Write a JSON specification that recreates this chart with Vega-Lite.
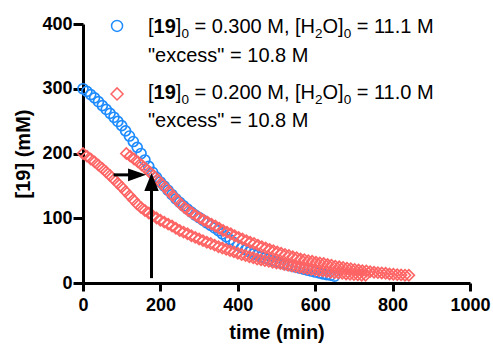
{
  "$schema": "https://vega.github.io/schema/vega-lite/v6.json",
  "width": 387,
  "height": 259,
  "autosize": {"type": "none"},
  "padding": {"left": 83, "top": 24, "right": 23, "bottom": 63},
  "background": "white",
  "config": {
    "view": {"stroke": null},
    "axis": {
      "grid": false,
      "domainColor": "black",
      "domainWidth": 3,
      "tickColor": "black",
      "tickWidth": 3,
      "labelFont": "Liberation Sans",
      "labelFontSize": 18,
      "labelFontWeight": "bold",
      "labelColor": "black",
      "labelFlush": false,
      "labelOverlap": false,
      "titleFont": "Liberation Sans",
      "titleFontSize": 20,
      "titleFontWeight": "bold",
      "titleColor": "black"
    },
    "axisX": {"tickSize": 8, "labelPadding": 5, "titlePadding": 8},
    "axisY": {"tickSize": 10, "labelPadding": 1, "titlePadding": 8}
  },
  "datasets": {
    "series": [
      {"s":"b","t":0,"c":300},{"s":"b","t":10,"c":296},{"s":"b","t":20,"c":291},{"s":"b","t":30,"c":286},{"s":"b","t":40,"c":280},{"s":"b","t":50,"c":274},{"s":"b","t":60,"c":268},{"s":"b","t":70,"c":262},{"s":"b","t":80,"c":256},{"s":"b","t":90,"c":249.5},
      {"s":"b","t":100,"c":243},{"s":"b","t":110,"c":235},{"s":"b","t":120,"c":227},{"s":"b","t":130,"c":218.5},{"s":"b","t":140,"c":209.5},{"s":"b","t":150,"c":200},{"s":"b","t":160,"c":190},{"s":"b","t":170,"c":180},{"s":"b","t":180,"c":171},{"s":"b","t":190,"c":163},
      {"s":"b","t":200,"c":156},{"s":"b","t":210,"c":149.5},{"s":"b","t":220,"c":143},{"s":"b","t":230,"c":136.5},{"s":"b","t":240,"c":130},{"s":"b","t":250,"c":124.5},{"s":"b","t":260,"c":119},{"s":"b","t":270,"c":114},{"s":"b","t":280,"c":109.5},{"s":"b","t":290,"c":105},
      {"s":"b","t":300,"c":101},{"s":"b","t":310,"c":97},{"s":"b","t":320,"c":93},{"s":"b","t":330,"c":89},{"s":"b","t":340,"c":85},{"s":"b","t":350,"c":81},{"s":"b","t":360,"c":76},{"s":"b","t":370,"c":71.5},{"s":"b","t":380,"c":67},{"s":"b","t":390,"c":62.5},
      {"s":"b","t":400,"c":58},{"s":"b","t":410,"c":54.5},{"s":"b","t":420,"c":51},{"s":"b","t":430,"c":48},{"s":"b","t":440,"c":45},{"s":"b","t":450,"c":43},{"s":"b","t":460,"c":40.5},{"s":"b","t":470,"c":38.5},{"s":"b","t":480,"c":36.5},{"s":"b","t":490,"c":34.5},
      {"s":"b","t":500,"c":32.5},{"s":"b","t":510,"c":31},{"s":"b","t":520,"c":29},{"s":"b","t":530,"c":27.5},{"s":"b","t":540,"c":26},{"s":"b","t":550,"c":24.5},{"s":"b","t":560,"c":23},{"s":"b","t":570,"c":21.5},{"s":"b","t":580,"c":20},{"s":"b","t":590,"c":18.5},
      {"s":"b","t":600,"c":17},{"s":"b","t":610,"c":15.5},{"s":"b","t":620,"c":14},{"s":"b","t":630,"c":13},{"s":"b","t":640,"c":12},{"s":"b","t":650,"c":10.5},
      {"s":"r","t":0,"c":200},{"s":"r","t":10,"c":196},{"s":"r","t":20,"c":191.5},{"s":"r","t":30,"c":187},{"s":"r","t":40,"c":182},{"s":"r","t":50,"c":177},{"s":"r","t":60,"c":171.5},{"s":"r","t":70,"c":166},{"s":"r","t":80,"c":160},{"s":"r","t":90,"c":154},
      {"s":"r","t":100,"c":148},{"s":"r","t":110,"c":141.5},{"s":"r","t":120,"c":135},{"s":"r","t":130,"c":128.5},{"s":"r","t":140,"c":122},{"s":"r","t":150,"c":116.5},{"s":"r","t":160,"c":112},{"s":"r","t":170,"c":108},{"s":"r","t":180,"c":104},{"s":"r","t":190,"c":100.5},
      {"s":"r","t":200,"c":97},{"s":"r","t":210,"c":94},{"s":"r","t":220,"c":91},{"s":"r","t":230,"c":88},{"s":"r","t":240,"c":84.5},{"s":"r","t":250,"c":81},{"s":"r","t":260,"c":78.5},{"s":"r","t":270,"c":76},{"s":"r","t":280,"c":73},{"s":"r","t":290,"c":70.5},
      {"s":"r","t":300,"c":68},{"s":"r","t":310,"c":65.5},{"s":"r","t":320,"c":63},{"s":"r","t":330,"c":61},{"s":"r","t":340,"c":58.5},{"s":"r","t":350,"c":56},{"s":"r","t":360,"c":54},{"s":"r","t":370,"c":52},{"s":"r","t":380,"c":50},{"s":"r","t":390,"c":48},
      {"s":"r","t":400,"c":46},{"s":"r","t":410,"c":44},{"s":"r","t":420,"c":42.5},{"s":"r","t":430,"c":40.5},{"s":"r","t":440,"c":39},{"s":"r","t":450,"c":37},{"s":"r","t":460,"c":36},{"s":"r","t":470,"c":34.5},{"s":"r","t":480,"c":33.5},{"s":"r","t":490,"c":32},
      {"s":"r","t":500,"c":31},{"s":"r","t":510,"c":30},{"s":"r","t":520,"c":28.5},{"s":"r","t":530,"c":27.5},{"s":"r","t":540,"c":26},{"s":"r","t":550,"c":25},{"s":"r","t":560,"c":24},{"s":"r","t":570,"c":23},{"s":"r","t":580,"c":22},{"s":"r","t":590,"c":21},
      {"s":"r","t":600,"c":20},{"s":"r","t":610,"c":19},{"s":"r","t":620,"c":18.5},{"s":"r","t":630,"c":17.5},{"s":"r","t":640,"c":16.5},{"s":"r","t":650,"c":16},{"s":"r","t":660,"c":15.5},{"s":"r","t":670,"c":15},{"s":"r","t":680,"c":14},{"s":"r","t":690,"c":13.5},
      {"s":"r","t":700,"c":13},{"s":"r","t":710,"c":12.5},{"s":"r","t":720,"c":12},{"s":"r","t":730,"c":12},
      {"s":"rs","t":112,"c":200},{"s":"rs","t":122,"c":196},{"s":"rs","t":132,"c":191.5},{"s":"rs","t":142,"c":187},{"s":"rs","t":152,"c":182},{"s":"rs","t":162,"c":177},{"s":"rs","t":172,"c":171.5},{"s":"rs","t":182,"c":166},{"s":"rs","t":192,"c":160},{"s":"rs","t":202,"c":154},
      {"s":"rs","t":212,"c":148},{"s":"rs","t":222,"c":141.5},{"s":"rs","t":232,"c":135},{"s":"rs","t":242,"c":128.5},{"s":"rs","t":252,"c":122},{"s":"rs","t":262,"c":116.5},{"s":"rs","t":272,"c":112},{"s":"rs","t":282,"c":108},{"s":"rs","t":292,"c":104},{"s":"rs","t":302,"c":100.5},
      {"s":"rs","t":312,"c":97},{"s":"rs","t":322,"c":94},{"s":"rs","t":332,"c":91},{"s":"rs","t":342,"c":88},{"s":"rs","t":352,"c":84.5},{"s":"rs","t":362,"c":81},{"s":"rs","t":372,"c":78.5},{"s":"rs","t":382,"c":76},{"s":"rs","t":392,"c":73},{"s":"rs","t":402,"c":70.5},
      {"s":"rs","t":412,"c":68},{"s":"rs","t":422,"c":65.5},{"s":"rs","t":432,"c":63},{"s":"rs","t":442,"c":61},{"s":"rs","t":452,"c":58.5},{"s":"rs","t":462,"c":56},{"s":"rs","t":472,"c":54},{"s":"rs","t":482,"c":52},{"s":"rs","t":492,"c":50},{"s":"rs","t":502,"c":48},
      {"s":"rs","t":512,"c":46},{"s":"rs","t":522,"c":44},{"s":"rs","t":532,"c":42.5},{"s":"rs","t":542,"c":40.5},{"s":"rs","t":552,"c":39},{"s":"rs","t":562,"c":37},{"s":"rs","t":572,"c":36},{"s":"rs","t":582,"c":34.5},{"s":"rs","t":592,"c":33.5},{"s":"rs","t":602,"c":32},
      {"s":"rs","t":612,"c":31},{"s":"rs","t":622,"c":30},{"s":"rs","t":632,"c":28.5},{"s":"rs","t":642,"c":27.5},{"s":"rs","t":652,"c":26},{"s":"rs","t":662,"c":25},{"s":"rs","t":672,"c":24},{"s":"rs","t":682,"c":23},{"s":"rs","t":692,"c":22},{"s":"rs","t":702,"c":21},
      {"s":"rs","t":712,"c":20},{"s":"rs","t":722,"c":19},{"s":"rs","t":732,"c":18.5},{"s":"rs","t":742,"c":17.5},{"s":"rs","t":752,"c":16.5},{"s":"rs","t":762,"c":16},{"s":"rs","t":772,"c":15.5},{"s":"rs","t":782,"c":15},{"s":"rs","t":792,"c":14},{"s":"rs","t":802,"c":13.5},
      {"s":"rs","t":812,"c":13},{"s":"rs","t":822,"c":12.5},{"s":"rs","t":832,"c":12},{"s":"rs","t":842,"c":12}
    ],
    "legsym": [{"s":"b","t":88,"c":397},{"s":"r","t":88,"c":292}],
    "arrows": [{"t":79,"t2":150,"c":167,"c2":167},{"t":177,"t2":177,"c":7.5,"c2":150}],
    "heads": [{"d":"right","t":163,"c":167},{"d":"up","t":177,"c":170}],
    "leg": [
      {"p":"b1","t":168,"c":386,"label":"["},{"p":"b1","t":168,"c":284.5,"label":"["},
      {"p":"n","t":168,"c":386,"label":"19"},{"p":"n","t":168,"c":284.5,"label":"19"},
      {"p":"b2","t":168,"c":386,"label":"]"},{"p":"b2","t":168,"c":284.5,"label":"]"},
      {"p":"s1","t":168,"c":386,"label":"0"},{"p":"s1","t":168,"c":284.5,"label":"0"},
      {"p":"m1","t":168,"c":386,"label":"= 0.300 M, [H"},{"p":"m1","t":168,"c":284.5,"label":"= 0.200 M, [H"},
      {"p":"s2","t":168,"c":386,"label":"2"},{"p":"s2","t":168,"c":284.5,"label":"2"},
      {"p":"m2","t":168,"c":386,"label":"O]"},{"p":"m2","t":168,"c":284.5,"label":"O]"},
      {"p":"s3","t":168,"c":386,"label":"0"},{"p":"s3","t":168,"c":284.5,"label":"0"},
      {"p":"m3","t":168,"c":386,"label":"= 11.1 M"},{"p":"m3","t":168,"c":284.5,"label":"= 11.0 M"},
      {"p":"ex","t":168,"c":341,"label":"\"excess\" = 10.8 M"},{"p":"ex","t":168,"c":241,"label":"\"excess\" = 10.8 M"}
    ]
  },
  "encoding": {
    "x": {"field": "t", "type": "quantitative", "scale": {"domain": [0, 1000], "nice": false, "zero": false},
          "axis": {"values": [0, 200, 400, 600, 800, 1000], "format": "d", "title": "time (min)"}},
    "y": {"field": "c", "type": "quantitative", "scale": {"domain": [0, 400], "nice": false, "zero": false},
          "axis": {"values": [0, 100, 200, 300, 400], "format": "d", "title": "[19] (mM)"}}
  },
  "layer": [
    {"data": {"name": "series"}, "transform": [{"filter": "datum.s == 'b'"}],
     "mark": {"type": "point", "shape": "circle", "filled": false, "size": 100, "strokeWidth": 1.7, "color": "#1E8CFF", "opacity": 1}},
    {"data": {"name": "series"}, "transform": [{"filter": "datum.s != 'b'"}],
     "mark": {"type": "point", "shape": "diamond", "filled": false, "size": 121, "strokeWidth": 1.7, "color": "#FF6464", "opacity": 1}},
    {"data": {"name": "legsym"}, "transform": [{"filter": "datum.s == 'b'"}],
     "mark": {"type": "point", "shape": "circle", "filled": false, "size": 121, "strokeWidth": 1.5, "color": "#1E8CFF", "opacity": 1}},
    {"data": {"name": "legsym"}, "transform": [{"filter": "datum.s == 'r'"}],
     "mark": {"type": "point", "shape": "diamond", "filled": false, "size": 144, "strokeWidth": 1.5, "color": "#FF6464", "opacity": 1}},
    {"data": {"name": "arrows"}, "mark": {"type": "rule", "strokeWidth": 3, "color": "black"},
     "encoding": {"x2": {"field": "t2"}, "y2": {"field": "c2"}}},
    {"data": {"name": "heads"}, "transform": [{"filter": "datum.d == 'right'"}],
     "mark": {"type": "point", "shape": "M0,0L-2,-0.72L-2,0.72Z", "filled": true, "size": 324, "color": "black", "opacity": 1, "strokeWidth": 0}},
    {"data": {"name": "heads"}, "transform": [{"filter": "datum.d == 'up'"}],
     "mark": {"type": "point", "shape": "M0,0L-0.8,2L0.8,2Z", "filled": true, "size": 324, "color": "black", "opacity": 1, "strokeWidth": 0}},
    {"data": {"name": "leg"}, "transform": [{"filter": "datum.p == 'b1'"}],
     "mark": {"type": "text", "align": "left", "baseline": "alphabetic", "font": "Liberation Sans", "fontSize": 20, "color": "black", "dx": 0},
     "encoding": {"text": {"field": "label"}}},
    {"data": {"name": "leg"}, "transform": [{"filter": "datum.p == 'n'"}],
     "mark": {"type": "text", "align": "left", "baseline": "alphabetic", "font": "Liberation Sans", "fontSize": 20, "fontWeight": "bold", "color": "black", "dx": 5.56},
     "encoding": {"text": {"field": "label"}}},
    {"data": {"name": "leg"}, "transform": [{"filter": "datum.p == 'b2'"}],
     "mark": {"type": "text", "align": "left", "baseline": "alphabetic", "font": "Liberation Sans", "fontSize": 20, "color": "black", "dx": 27.8},
     "encoding": {"text": {"field": "label"}}},
    {"data": {"name": "leg"}, "transform": [{"filter": "datum.p == 's1'"}],
     "mark": {"type": "text", "align": "left", "baseline": "alphabetic", "font": "Liberation Sans", "fontSize": 13.5, "color": "black", "dx": 33.36, "dy": 5},
     "encoding": {"text": {"field": "label"}}},
    {"data": {"name": "leg"}, "transform": [{"filter": "datum.p == 'm1'"}],
     "mark": {"type": "text", "align": "left", "baseline": "alphabetic", "font": "Liberation Sans", "fontSize": 20, "color": "black", "dx": 46.42},
     "encoding": {"text": {"field": "label"}}},
    {"data": {"name": "leg"}, "transform": [{"filter": "datum.p == 's2'"}],
     "mark": {"type": "text", "align": "left", "baseline": "alphabetic", "font": "Liberation Sans", "fontSize": 13.5, "color": "black", "dx": 167.04, "dy": 5},
     "encoding": {"text": {"field": "label"}}},
    {"data": {"name": "leg"}, "transform": [{"filter": "datum.p == 'm2'"}],
     "mark": {"type": "text", "align": "left", "baseline": "alphabetic", "font": "Liberation Sans", "fontSize": 20, "color": "black", "dx": 174.54},
     "encoding": {"text": {"field": "label"}}},
    {"data": {"name": "leg"}, "transform": [{"filter": "datum.p == 's3'"}],
     "mark": {"type": "text", "align": "left", "baseline": "alphabetic", "font": "Liberation Sans", "fontSize": 13.5, "color": "black", "dx": 195.66, "dy": 5},
     "encoding": {"text": {"field": "label"}}},
    {"data": {"name": "leg"}, "transform": [{"filter": "datum.p == 'm3'"}],
     "mark": {"type": "text", "align": "left", "baseline": "alphabetic", "font": "Liberation Sans", "fontSize": 20, "color": "black", "dx": 208.72},
     "encoding": {"text": {"field": "label"}}},
    {"data": {"name": "leg"}, "transform": [{"filter": "datum.p == 'ex'"}],
     "mark": {"type": "text", "align": "left", "baseline": "alphabetic", "font": "Liberation Sans", "fontSize": 20, "color": "black", "dx": 0},
     "encoding": {"text": {"field": "label"}}}
  ]
}
